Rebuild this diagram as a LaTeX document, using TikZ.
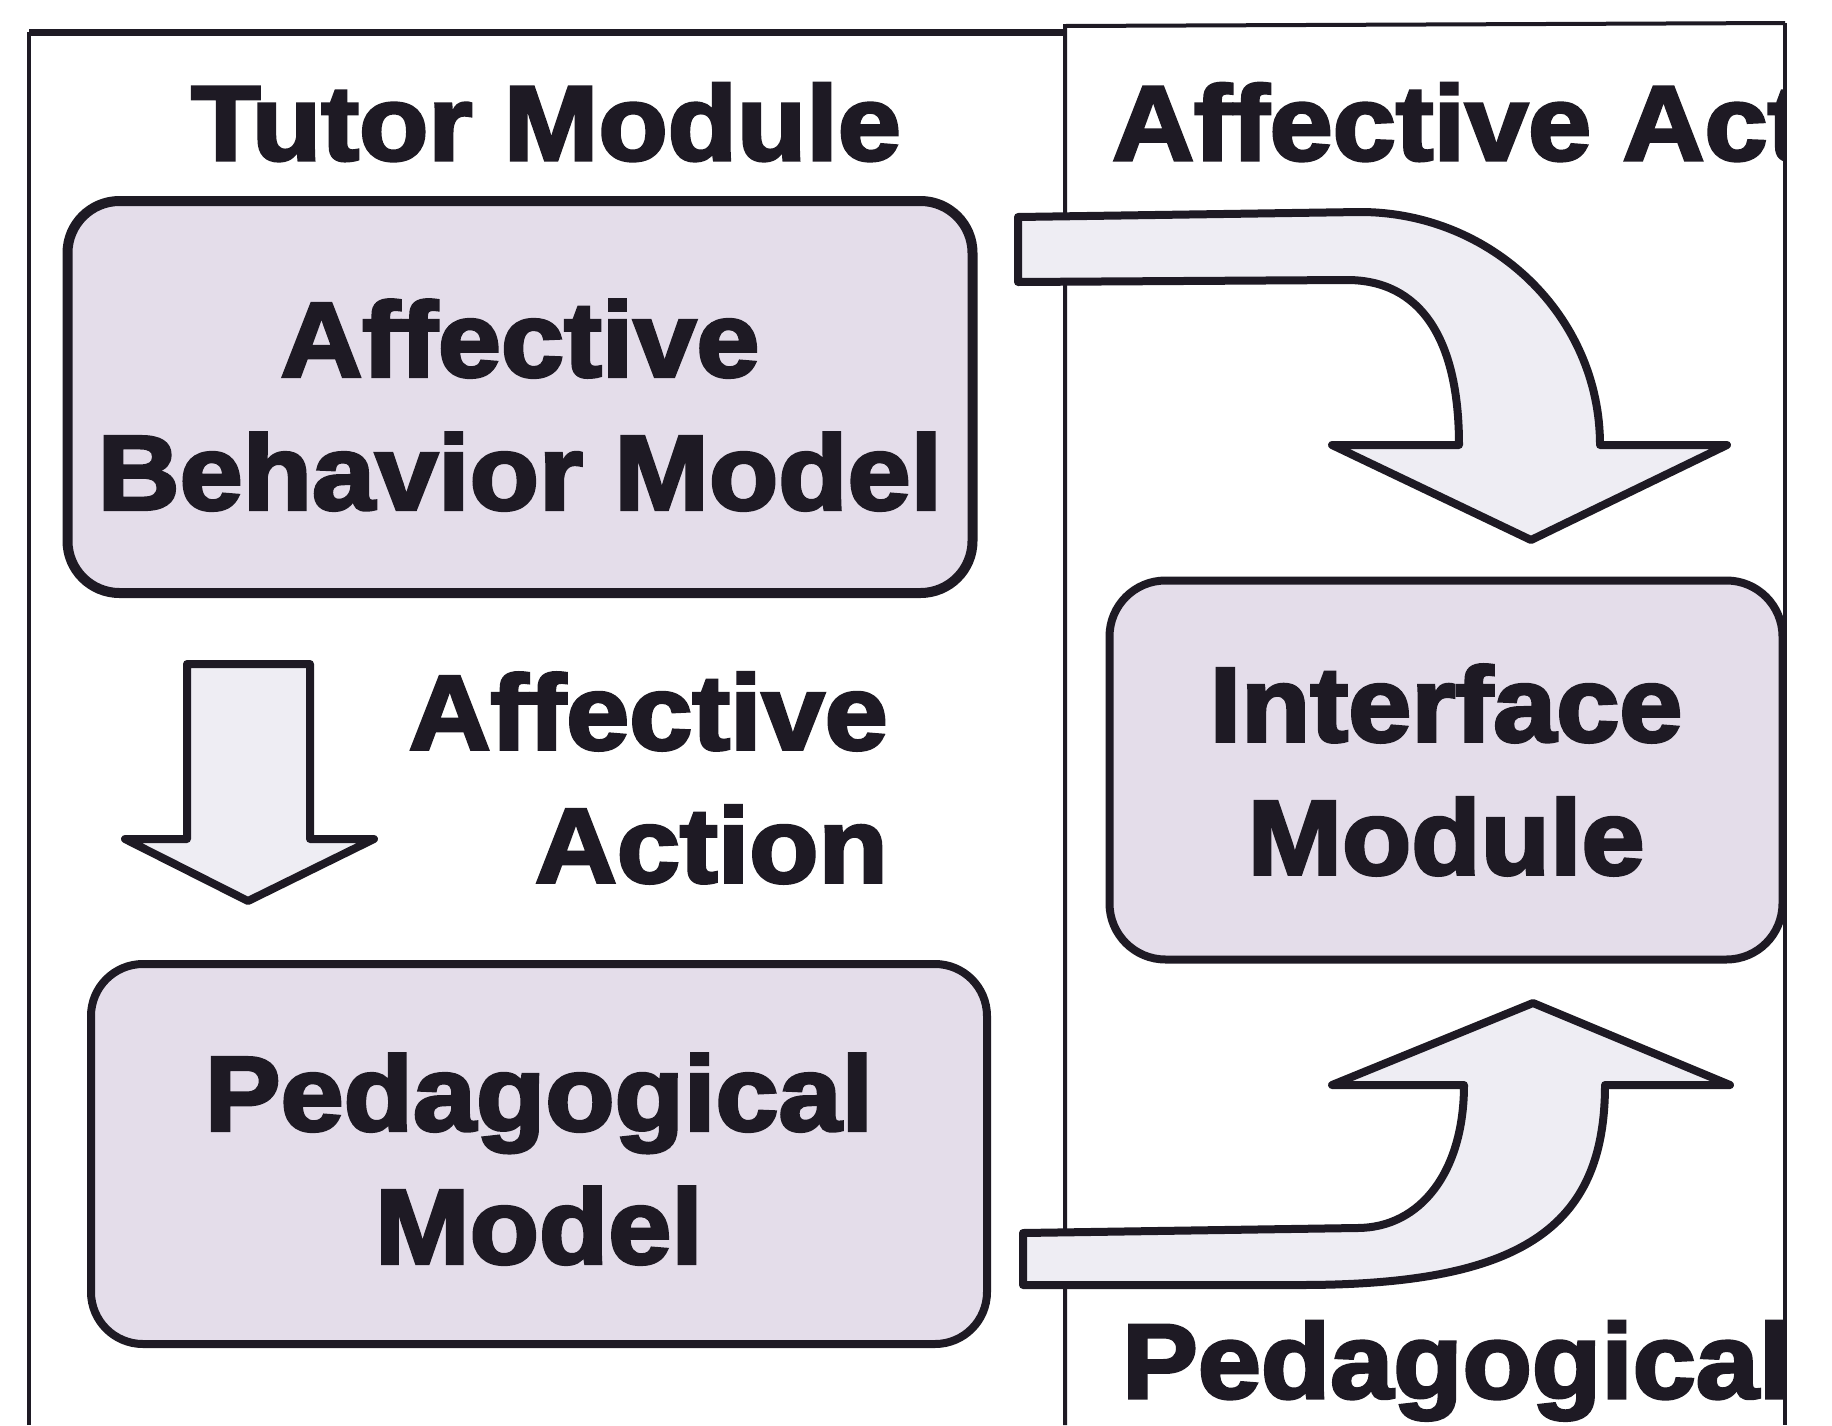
\documentclass[tikz,border=0pt]{standalone}
\usepackage{fontspec}
\setmainfont{Liberation Sans}[FakeStretch=1.07, BoldFeatures={FakeBold=3}]
\definecolor{ink}{RGB}{30,26,36}
\definecolor{boxfill}{RGB}{228,221,234}
\definecolor{arrowfill}{RGB}{238,237,243}
\begin{document}
\begin{tikzpicture}[x=1pt,y=-1pt,
  every node/.style={font=\fontsize{106}{133}\selectfont\bfseries, text=ink},
  box/.style={draw=ink, line width=8pt, rounded corners=52pt, fill=boxfill, align=center, inner sep=0pt},
  label/.style={inner sep=0pt, align=center},
  blockarrow/.style={draw=ink, line width=8pt, fill=arrowfill, line join=round},
  frame/.style={draw=ink, line width=4pt}]

\fill[white] (0,0) rectangle (1832,1425);
\useasboundingbox (0,0) rectangle (1832,1425);

% panels
\coordinate (tl) at (29,32);
\coordinate (tm) at (1065,32);
\coordinate (tr) at (1785,23);
\draw[frame] (29,1425) -- (tl);
\draw[frame, line width=7pt] (tl) -- (tm);
\draw[frame] (1065,1425) -- (1065,26) -- (tr);

% titles
\node[label, anchor=base] (tutor) at (546,160) {Tutor Module};
\begin{scope}
\clip (1066,0) rectangle (1783,300);
\node[label, anchor=base west] (affact) at (1112,160) {Affective Act};
\end{scope}
\draw[frame] (tr) -- (1785,1425);
\node[label, anchor=base west] (pedact) at (1122,1398) {Pedagogical};

% modules
\node[box, line width=10pt, minimum width=905pt, minimum height=392pt] (abm) at (520,397) {Affective\rule{0pt}{93pt}\\Behavior Model};
\node[box, minimum width=673pt, minimum height=379pt, rounded corners=56pt] (im) at (1446,770) {Interface\\Module};
\node[box, minimum width=896pt, minimum height=380pt] (pm) at (539,1154) {Pedagogical\rule{0pt}{87pt}\\Model};

% affective action
\draw[blockarrow] (187,664) -- (310,664) -- (310,839) -- (374,839) -- (248,901) -- (125,839) -- (187,839) -- cycle;
\node[label, align=right, anchor=east] (aa) at (888,778) {Affective\\Action};

% abm to interface
\draw[blockarrow] (1018,282) -- (1347,280) .. controls (1420,280) and (1459,338) .. (1459,445)
  -- (1332,445) -- (1531,540) -- (1727,445) -- (1600,445)
  .. controls (1600,316) and (1492,212) .. (1360,212) -- (1018,217) -- cycle;

% pedagogical model to interface
\draw[blockarrow] (1023,1233) -- (1357,1228) .. controls (1421,1228) and (1464,1171) .. (1464,1085)
  -- (1332,1085) -- (1533,1003) -- (1730,1085) -- (1605,1085)
  .. controls (1605,1229) and (1520,1285) .. (1300,1285) -- (1023,1285) -- cycle;

\end{tikzpicture}
\end{document}
